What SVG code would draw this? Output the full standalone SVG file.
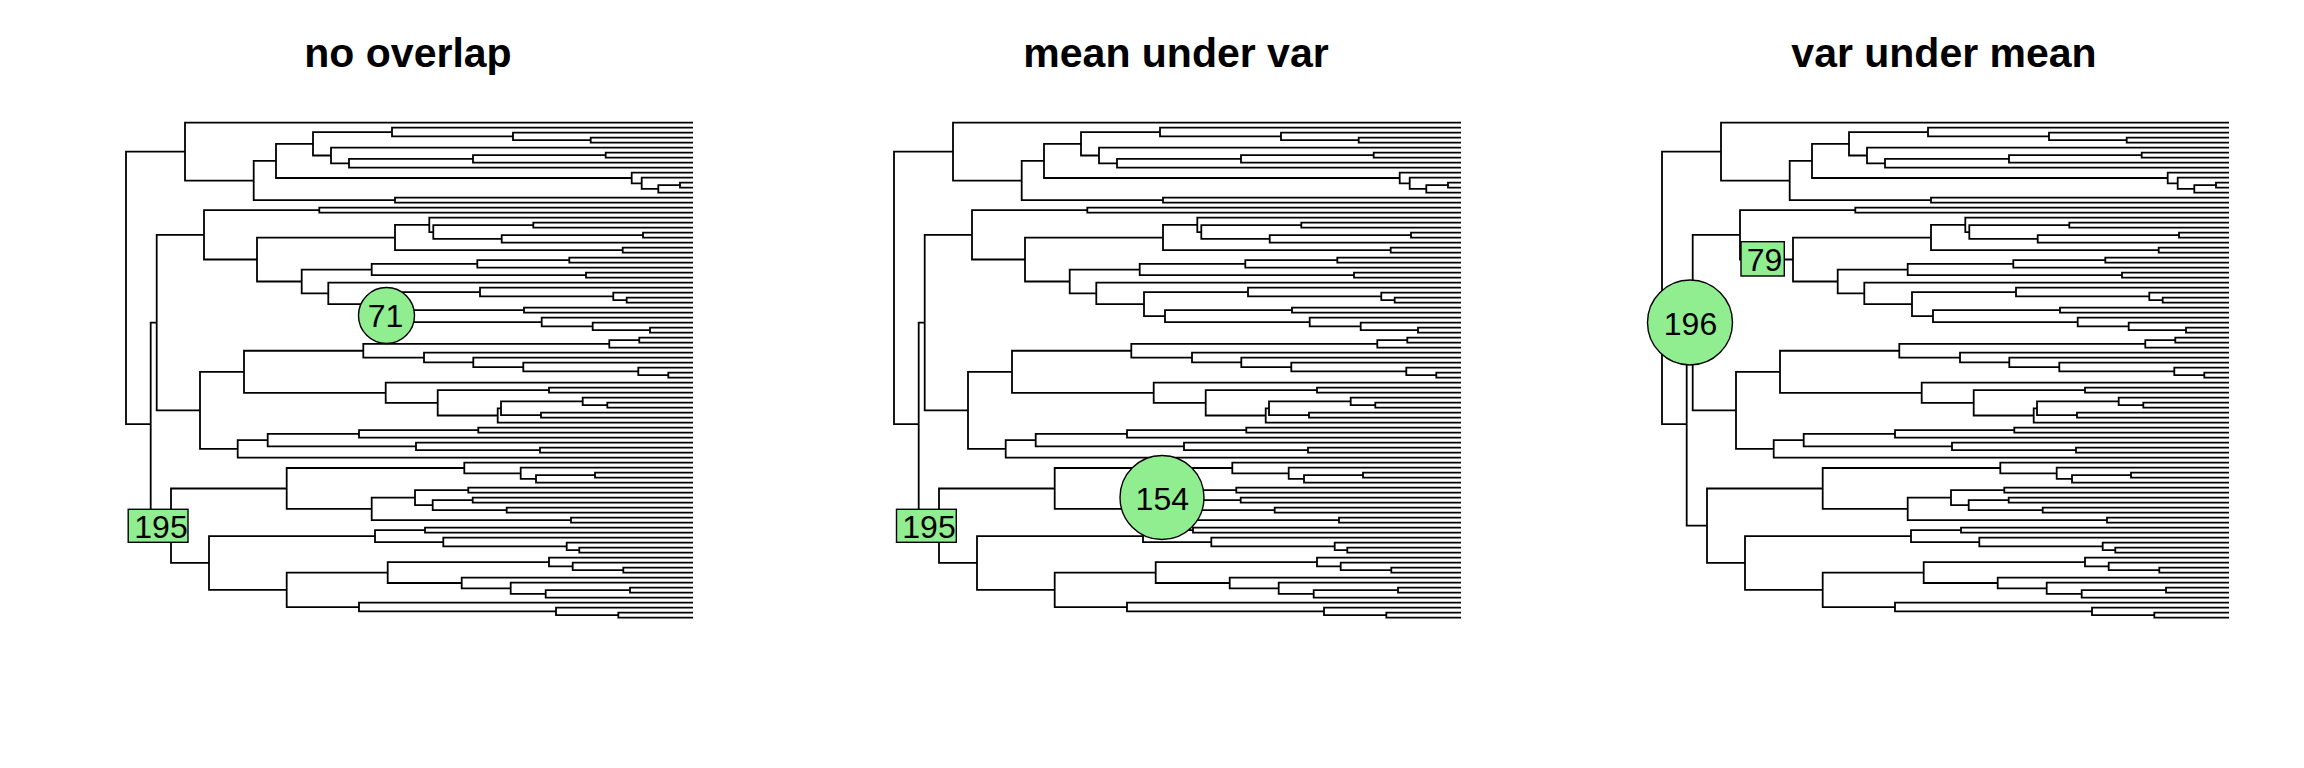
<svg xmlns="http://www.w3.org/2000/svg" width="2304" height="768" viewBox="0 0 2304 768">
<style>
.title{font-family:"Liberation Sans",Arial,sans-serif;font-weight:bold;font-size:41px;text-anchor:middle;fill:#000}
.lab{fill:#90EE90;stroke:#000;stroke-width:1.4}
.lt{font-family:"Liberation Sans",Arial,sans-serif;font-size:32px;text-anchor:middle;fill:#000}
</style>
<defs>
<path id="tree" fill="none" stroke="#000" stroke-width="1.8" stroke-linejoin="miter" d="
M185 151.6H126V424.15H150.7
M693 122.7H185V180.55H253.7
M276 160.9H253.7V200.2H395
M313 143.8H276V178H631.7
M392 132.1H313V155.5H331
M693 127.7H392V136.45H513
M693 132.7H513V140.2H590.7
M693 137.7H590.7V142.7H693
M693 147.7H331V163.3H349
M473 158.95H349V167.7H693
M605.7 155.2H473V162.7H693
M693 152.7H605.7V157.7H693
M693 172.7H631.7V183.3H641.7
M693 177.7H641.7V188.95H658.3
M680 185.2H658.3V192.7H693
M693 182.7H680V187.7H693
M693 197.7H395V202.7H693
M156.7 322.6H150.7V525.7H171
M204 234.85H156.7V410.4H200
M319.3 210.2H204V259.5H257
M693 207.7H319.3V212.7H693
M395 237.55H257V281.5H301.7
M429.3 224.9H395V250.2H622.7
M693 217.7H429.3V232.1H433.3
M533.3 225.2H433.3V238.95H501.7
M693 222.7H533.3V227.7H693
M643 235.2H501.7V242.7H693
M693 232.7H643V237.7H693
M693 247.7H622.7V252.7H693
M371.7 269.6H301.7V293.4H328.3
M477.3 263.95H371.7V275.2H586
M569.3 260.2H477.3V267.7H693
M693 257.7H569.3V262.7H693
M693 272.7H586V277.7H693
M693 282.7H328.3V304.1H376
M480 292.1H376V316.15H397
M693 287.7H480V296.45H613.3
M693 292.7H613.3V300.2H626.7
M693 297.7H626.7V302.7H693
M524 310.2H397V322.1H541.7
M693 307.7H524V312.7H693
M693 317.7H541.7V326.45H592.7
M693 322.7H592.7V330.2H650
M693 327.7H650V332.7H693
M244 371.8H200V448.95H237.7
M363.3 350.75H244V392.8H385.7
M609.3 343.95H363.3V357.55H424
M639.3 340.2H609.3V347.7H693
M693 337.7H639.3V342.7H693
M693 352.7H424V362.4H473.3
M693 357.7H473.3V367.1H523.3
M693 362.7H523.3V371.45H638.3
M693 367.7H638.3V375.2H668.3
M693 372.7H668.3V377.7H693
M693 382.7H385.7V402.85H437.7
M549 390.2H437.7V415.5H497.7
M693 387.7H549V392.7H693
M501 408.3H497.7V422.7H693
M582.7 401.45H501V415.2H541
M693 397.7H582.7V405.2H607.3
M693 402.7H607.3V407.7H693
M693 412.7H541V417.7H693
M267.7 440.2H237.7V457.7H693
M359 433.95H267.7V446.45H416
M478.3 430.2H359V437.7H693
M693 427.7H478.3V432.7H693
M693 442.7H416V450.2H540
M693 447.7H540V452.7H693
M286.7 488.5H171V562.95H209
M464.3 468H286.7V508.95H371.7
M693 462.7H464.3V473.3H520.7
M693 467.7H520.7V478.95H536
M595 475.2H536V482.7H693
M693 472.7H595V477.7H693
M415 497.7H371.7V520.2H571
M468.3 490.2H415V505.2H432.7
M693 487.7H468.3V492.7H693
M472.7 500.2H432.7V510.2H506.7
M693 497.7H472.7V502.7H693
M693 507.7H506.7V512.7H693
M693 517.7H571V522.7H693
M375 536.15H209V589.8H286.7
M425 530.2H375V542.1H443.3
M693 527.7H425V532.7H693
M693 537.7H443.3V546.45H566.7
M693 542.7H566.7V550.2H579.3
M693 547.7H579.3V552.7H693
M387.7 572.55H286.7V607.1H359
M549 562.1H387.7V583H461.7
M693 557.7H549V566.45H572.7
M693 562.7H572.7V570.2H623.3
M693 567.7H623.3V572.7H693
M693 577.7H461.7V588.3H510.7
M693 582.7H510.7V593.95H545.7
M630 590.2H545.7V597.7H693
M693 587.7H630V592.7H693
M693 602.7H359V611.45H556
M693 607.7H556V615.2H618.3
M693 612.7H618.3V617.7H693"/>
</defs>
<rect width="2304" height="768" fill="#ffffff"/>
<g id="titles">
<text class="title" x="408" y="66.7">no overlap</text>
<text class="title" x="1176" y="66.7">mean under var</text>
<text class="title" x="1944" y="66.7">var under mean</text>
</g>
<g id="connectors">
<use href="#tree"/>
<use href="#tree" x="768"/>
<use href="#tree" x="1536"/>
</g>
<g id="label-71">
<circle class="lab" cx="386.5" cy="315.5" r="28"/>
<text class="lt" x="385.5" y="327">71</text>
</g>
<g id="label-195-a">
<rect class="lab" x="128.2" y="509.3" width="59.8" height="33"/>
<text class="lt" x="161" y="537.5">195</text>
</g>
<g id="label-154">
<circle class="lab" cx="1162" cy="497.5" r="42"/>
<text class="lt" x="1162.3" y="509.5">154</text>
</g>
<g id="label-195-b">
<rect class="lab" x="896.5" y="509.3" width="59.8" height="33"/>
<text class="lt" x="929" y="537.5">195</text>
</g>
<g id="label-196">
<circle class="lab" cx="1690" cy="322.5" r="42.5"/>
<text class="lt" x="1690.5" y="334.5">196</text>
</g>
<g id="label-79">
<rect class="lab" x="1741" y="241.7" width="43.3" height="34.3"/>
<text class="lt" x="1764.5" y="271">79</text>
</g>
</svg>
